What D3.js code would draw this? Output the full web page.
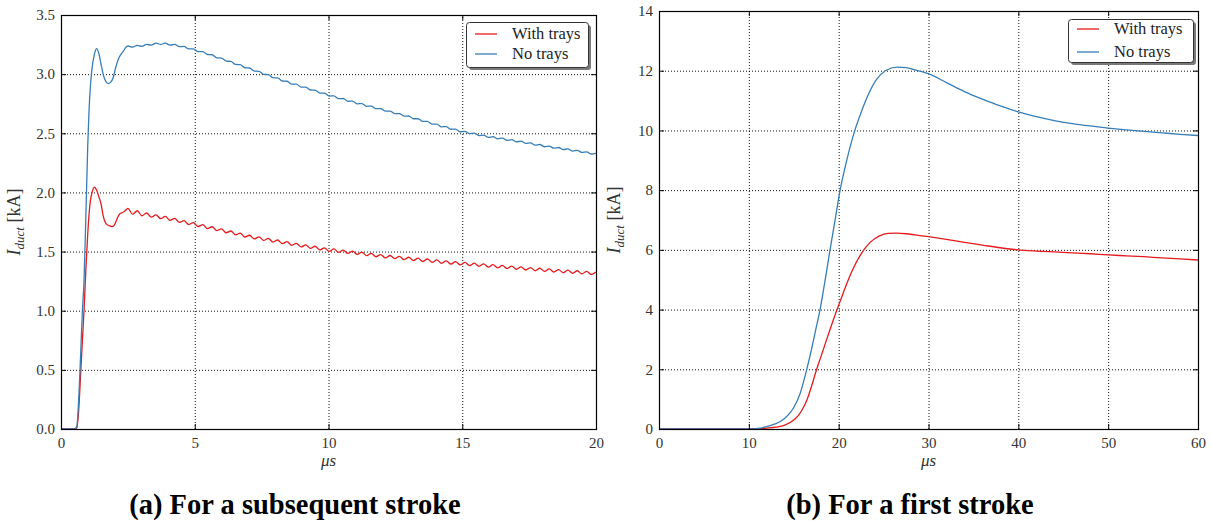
<!DOCTYPE html>
<html><head><meta charset="utf-8">
<script src="https://cdn.jsdelivr.net/npm/d3@7"></script>
<style>body{margin:0;background:#fff}svg{display:block}</style>
</head><body>
<svg id="c" width="1211" height="521"></svg>
<script>
// ---------- DATA ----------
const seriesNames = ["With trays", "No trays"];
const seriesColors = ["#e41a1c", "#377eb8"];

// (a) subsequent stroke — early part (µs, kA)
const tA_withEarly = [0, 0.5, 0.59, 0.65, 0.72, 0.8, 0.86, 0.93, 1.0, 1.05, 1.1, 1.15, 1.25, 1.33, 1.42, 1.5, 1.58, 1.65, 1.71, 1.8, 1.9, 1.96, 2.03, 2.1, 2.2, 2.3, 2.4];
const iA_withEarly = [0, 0, 0.01, 0.12, 0.4, 0.75, 1.0, 1.35, 1.65, 1.82, 1.93, 1.99, 2.045, 2.02, 1.96, 1.9, 1.8, 1.75, 1.73, 1.72, 1.712, 1.715, 1.74, 1.78, 1.82, 1.83, 1.845];
const tA_noEarly = [0, 0.5, 0.59, 0.65, 0.72, 0.8, 0.86, 0.93, 1.0, 1.05, 1.1, 1.15, 1.25, 1.33, 1.42, 1.5, 1.6, 1.7, 1.77, 1.85, 1.95, 2.05, 2.15, 2.25, 2.35, 2.42];
const iA_noEarly = [0, 0, 0.02, 0.2, 0.55, 1.0, 1.25, 1.8, 2.4, 2.7, 2.9, 3.03, 3.17, 3.215, 3.17, 3.08, 2.98, 2.93, 2.92, 2.93, 2.97, 3.06, 3.13, 3.17, 3.2, 3.225];

// (a) subsequent stroke — rippled tail, read peak/trough by peak/trough
const tA_tail = [2.5, 2.675, 2.85, 3.025, 3.2, 3.375, 3.55, 3.725, 3.9, 4.075,
  4.25, 4.425, 4.6, 4.775, 4.95, 5.125, 5.3, 5.475, 5.65, 5.825,
  6.0, 6.175, 6.35, 6.525, 6.7, 6.875, 7.05, 7.225, 7.4, 7.575,
  7.75, 7.925, 8.1, 8.275, 8.45, 8.625, 8.8, 8.975, 9.15, 9.325,
  9.5, 9.675, 9.85, 10.025, 10.2, 10.375, 10.55, 10.725, 10.9, 11.075,
  11.25, 11.425, 11.6, 11.775, 11.95, 12.125, 12.3, 12.475, 12.65, 12.825,
  13.0, 13.175, 13.35, 13.525, 13.7, 13.875, 14.05, 14.225, 14.4, 14.575,
  14.75, 14.925, 15.1, 15.275, 15.45, 15.625, 15.8, 15.975, 16.15, 16.325,
  16.5, 16.675, 16.85, 17.025, 17.2, 17.375, 17.55, 17.725, 17.9, 18.075,
  18.25, 18.425, 18.6, 18.775, 18.95, 19.125, 19.3, 19.475, 19.65, 19.825, 20.0];
const iA_withTail = [1.865, 1.816, 1.845, 1.803, 1.826, 1.791, 1.811, 1.778, 1.797, 1.764,
  1.78, 1.747, 1.762, 1.729, 1.745, 1.712, 1.727, 1.694, 1.71, 1.677,
  1.692, 1.659, 1.674, 1.641, 1.656, 1.623, 1.638, 1.607, 1.625, 1.594,
  1.611, 1.581, 1.598, 1.567, 1.584, 1.553, 1.57, 1.539, 1.557, 1.527,
  1.545, 1.514, 1.532, 1.502, 1.522, 1.494, 1.513, 1.485, 1.504, 1.476,
  1.495, 1.466, 1.485, 1.456, 1.475, 1.447, 1.467, 1.44, 1.46, 1.432,
  1.452, 1.424, 1.444, 1.416, 1.437, 1.409, 1.429, 1.401, 1.422, 1.394,
  1.415, 1.387, 1.408, 1.381, 1.402, 1.375, 1.396, 1.368, 1.389, 1.362,
  1.383, 1.356, 1.377, 1.35, 1.371, 1.344, 1.365, 1.338, 1.359, 1.332,
  1.353, 1.326, 1.348, 1.321, 1.343, 1.316, 1.338, 1.311, 1.333, 1.306, 1.328];
const iA_noTail = [3.238, 3.229, 3.243, 3.235, 3.252, 3.245, 3.262, 3.252, 3.262, 3.246,
  3.251, 3.232, 3.235, 3.213, 3.214, 3.19, 3.19, 3.166, 3.164, 3.138,
  3.136, 3.11, 3.108, 3.082, 3.08, 3.054, 3.052, 3.026, 3.024, 2.998,
  2.996, 2.97, 2.968, 2.942, 2.94, 2.915, 2.915, 2.891, 2.89, 2.866,
  2.865, 2.84, 2.84, 2.815, 2.816, 2.793, 2.794, 2.771, 2.772, 2.749,
  2.751, 2.728, 2.73, 2.708, 2.709, 2.687, 2.688, 2.666, 2.667, 2.645,
  2.646, 2.623, 2.623, 2.6, 2.601, 2.577, 2.578, 2.555, 2.557, 2.534,
  2.536, 2.513, 2.516, 2.497, 2.501, 2.481, 2.485, 2.465, 2.471, 2.453,
  2.459, 2.44, 2.446, 2.428, 2.433, 2.414, 2.419, 2.4, 2.405, 2.386,
  2.392, 2.374, 2.38, 2.362, 2.368, 2.35, 2.356, 2.338, 2.343, 2.325, 2.331];

// (b) first stroke
const tB_with = [0, 10, 11, 12, 13, 14, 15, 15.5, 16, 16.5, 17, 17.5, 18, 18.5, 19, 19.7, 20.5, 21.5, 22.57, 23.5, 24.5, 25.5, 26.5, 27.5, 28.5, 30, 32, 34, 36, 38, 40, 42, 44, 46, 48, 50, 52, 54, 56, 58, 60];
const iB_with = [0, 0, 0.01, 0.03, 0.06, 0.13, 0.3, 0.45, 0.68, 1.0, 1.45, 1.95, 2.4, 2.85, 3.3, 3.9, 4.55, 5.3, 5.9, 6.25, 6.46, 6.55, 6.56, 6.54, 6.5, 6.44, 6.35, 6.25, 6.16, 6.07, 6.0, 5.96, 5.93, 5.9, 5.87, 5.83, 5.8, 5.77, 5.73, 5.7, 5.66];
const tB_no = [0, 10, 11, 12, 13, 13.5, 14, 14.6, 15, 15.7, 16.45, 17, 17.5, 17.93, 18.5, 19.04, 19.6, 20.16, 20.9, 21.8, 22.5, 23.3, 24.2, 25.2, 26.5, 27.5, 28.5, 30, 32, 34, 36, 38, 40, 42, 44, 46, 48, 50, 52, 54, 56, 58, 60];
const iB_no = [0, 0, 0.02, 0.08, 0.18, 0.25, 0.36, 0.55, 0.72, 1.18, 2.0, 2.7, 3.4, 4.0, 5.0, 6.0, 7.0, 8.0, 9.0, 10.0, 10.6, 11.2, 11.7, 12.0, 12.12, 12.1, 12.03, 11.9, 11.6, 11.3, 11.05, 10.82, 10.62, 10.46, 10.33, 10.23, 10.15, 10.08, 10.02, 9.97, 9.92, 9.87, 9.83];

// ticks
const xTicksA = [0, 5, 10, 15, 20];
const yTicksA = [0, 0.5, 1.0, 1.5, 2.0, 2.5, 3.0, 3.5];
const xTicksB = [0, 10, 20, 30, 40, 50, 60];
const yTicksB = [0, 2, 4, 6, 8, 10, 12, 14];
const captions = ["(a) For a subsequent stroke", "(b) For a first stroke"];
const xLabel = "μs";

// ---------- DRAW ----------
const svg = d3.select("#c");
const zip = (t, v) => t.map((d, i) => [d, v[i]]);
const SERIF = "'Liberation Serif', 'DejaVu Serif', serif";

function panel(cfg, idx) {
  const g = svg.append("g");
  const x = d3.scaleLinear().domain(cfg.xDomain).range([cfg.left, cfg.right]);
  const y = d3.scaleLinear().domain(cfg.yDomain).range([cfg.bottom, cfg.top]);
  const W = cfg.right - cfg.left, H = cfg.bottom - cfg.top;

  // grid
  const gx = g.append("g").attr("transform", `translate(0,${cfg.bottom})`)
    .call(d3.axisBottom(x).tickValues(cfg.xTicks).tickSize(-H).tickFormat(""));
  const gy = g.append("g").attr("transform", `translate(${cfg.left},0)`)
    .call(d3.axisLeft(y).tickValues(cfg.yTicks).tickSize(-W).tickFormat(""));
  [gx, gy].forEach(a => {
    a.select(".domain").remove();
    a.selectAll("line").attr("stroke", "#111").attr("stroke-width", 1).attr("stroke-dasharray", "1,2");
  });

  // clip
  const cid = "clip" + idx;
  svg.append("clipPath").attr("id", cid).append("rect")
    .attr("x", cfg.left).attr("y", cfg.top).attr("width", W).attr("height", H);

  const line = d3.line().x(d => x(d[0])).y(d => y(d[1])).curve(d3.curveMonotoneX);
  cfg.series.forEach((s, i) => {
    g.append("path").attr("clip-path", `url(#${cid})`)
      .attr("d", line(s)).attr("fill", "none")
      .attr("stroke", seriesColors[i]).attr("stroke-width", 1.3);
  });

  // ticks, inward on all four sides
  const tickStyle = a => {
    a.attr("font-family", SERIF).attr("font-size", 15);
    a.select(".domain").remove();
    a.selectAll("line").attr("stroke", "#000");
    a.selectAll("text").style("font-family", SERIF).attr("font-size", 15).attr("fill", "#333");
  };
  g.append("g").attr("transform", `translate(0,${cfg.bottom})`)
    .call(d3.axisBottom(x).tickValues(cfg.xTicks).tickSize(-5).tickPadding(8).tickFormat(cfg.xFmt)).call(tickStyle);
  g.append("g").attr("transform", `translate(0,${cfg.top})`)
    .call(d3.axisTop(x).tickValues(cfg.xTicks).tickSize(-5).tickFormat("")).call(tickStyle);
  g.append("g").attr("transform", `translate(${cfg.left},0)`)
    .call(d3.axisLeft(y).tickValues(cfg.yTicks).tickSize(-5).tickPadding(6).tickFormat(cfg.yFmt)).call(tickStyle);
  g.append("g").attr("transform", `translate(${cfg.right},0)`)
    .call(d3.axisRight(y).tickValues(cfg.yTicks).tickSize(-5).tickFormat("")).call(tickStyle);

  // frame
  g.append("rect").attr("x", cfg.left + 0.5).attr("y", cfg.top + 0.5)
    .attr("width", W).attr("height", H).attr("fill", "none").attr("stroke", "#000").attr("stroke-width", 1.2);

  // axis labels
  g.append("text").attr("x", (cfg.left + cfg.right) / 2).attr("y", 466)
    .attr("text-anchor", "middle").style("font-family", SERIF)
    .attr("font-style", "italic").attr("font-size", 17).attr("fill", "#333").text(xLabel);
  const yl = g.append("text")
    .attr("transform", `translate(${cfg.ylabX},${(cfg.top + cfg.bottom) / 2}) rotate(-90)`)
    .attr("text-anchor", "middle").style("font-family", SERIF)
    .attr("font-size", 18).attr("fill", "#333");
  yl.append("tspan").attr("font-style", "italic").text("I");
  yl.append("tspan").attr("font-style", "italic").attr("font-size", 13).attr("dy", 4).text("duct");
  yl.append("tspan").attr("dy", -4).text(" [kA]");

  // legend
  const L = cfg.legend;
  g.append("rect").attr("x", L.x + 3).attr("y", L.y + 3).attr("width", L.w).attr("height", L.h)
    .attr("rx", 3).attr("fill", "#7a7a7a");
  g.append("rect").attr("x", L.x + 0.5).attr("y", L.y + 0.5).attr("width", L.w).attr("height", L.h)
    .attr("rx", 3).attr("fill", "#fff").attr("stroke", "#333").attr("stroke-width", 1);
  seriesNames.forEach((n, i) => {
    const yy = L.y + L.row0 + i * L.rowGap;
    g.append("line").attr("x1", L.x + 9).attr("x2", L.x + 31).attr("y1", yy).attr("y2", yy)
      .attr("stroke", seriesColors[i]).attr("stroke-width", 1.3);
    g.append("text").attr("x", L.x + L.textDx).attr("y", yy + 5)
      .style("font-family", SERIF).attr("font-size", 16.5).attr("fill", "#222").text(n);
  });

  // caption
  g.append("text").attr("x", cfg.capX).attr("y", 514).attr("text-anchor", "middle")
    .style("font-family", SERIF).attr("font-weight", "bold")
    .attr("font-size", 28.5).attr("fill", "#000").text(captions[idx]);
}

panel({
  left: 61, right: 596, top: 15, bottom: 429,
  xDomain: [0, 20], yDomain: [0, 3.5], xTicks: xTicksA, yTicks: yTicksA,
  xFmt: d3.format("d"), yFmt: d3.format(".1f"), ylabX: 20,
  series: [
    zip(tA_withEarly, iA_withEarly).concat(zip(tA_tail, iA_withTail)),
    zip(tA_noEarly, iA_noEarly).concat(zip(tA_tail, iA_noTail))
  ],
  legend: { x: 466, y: 22, w: 122, h: 45, row0: 12, rowGap: 20, textDx: 46 },
  capX: 295
}, 0);

panel({
  left: 659, right: 1198, top: 11, bottom: 429,
  xDomain: [0, 60], yDomain: [0, 14], xTicks: xTicksB, yTicks: yTicksB,
  xFmt: d3.format("d"), yFmt: d3.format("d"), ylabX: 620,
  series: [zip(tB_with, iB_with), zip(tB_no, iB_no)],
  legend: { x: 1068, y: 19, w: 125, h: 43, row0: 10, rowGap: 23, textDx: 46 },
  capX: 910
}, 1);
</script>
</body></html>
